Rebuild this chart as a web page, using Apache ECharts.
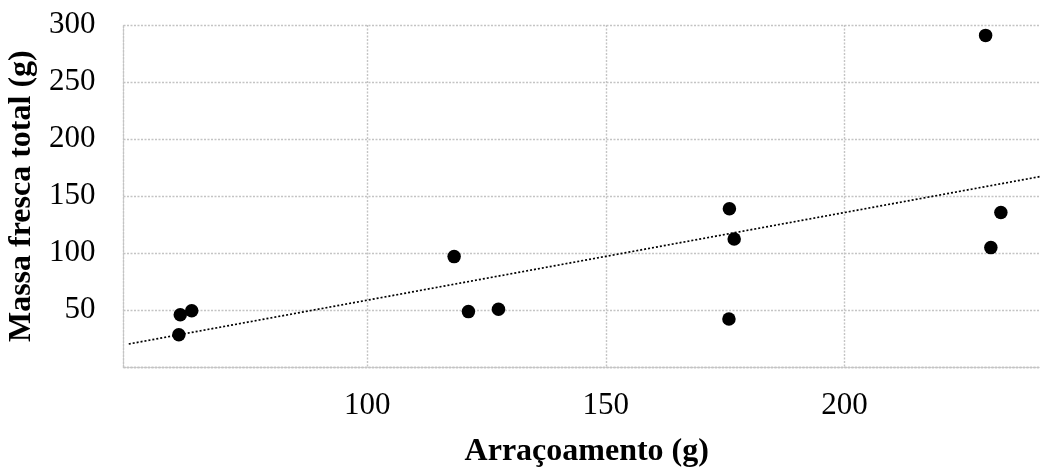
<!DOCTYPE html>
<html>
<head>
<meta charset="utf-8">
<script src="https://cdn.jsdelivr.net/npm/echarts@6/dist/echarts.min.js"></script>
<style>
  html, body { margin: 0; padding: 0; background: #fff; }
  #chart { width: 1040px; height: 467px; }
</style>
</head>
<body>
<div id="chart"></div>
<script>
// Feeding amount (g) and total fresh mass (g) per observation
const arracoamento = [60.8, 63.2, 60.5, 118.2, 121.2, 127.5, 175.9, 176.9, 175.8, 229.6, 232.8, 230.7];
const massaFresca  = [46.1, 49.6, 28.6, 97.0, 48.8, 50.9, 138.9, 112.5, 42.4, 290.9, 135.6, 104.9];
const xTicks = [100, 150, 200];
const yTicks = [50, 100, 150, 200, 250, 300];
const xRange = [48.9, 241];
const trendStart = 50;

// Least-squares linear trend
function linearFit(xs, ys) {
  const n = xs.length;
  const mx = xs.reduce((a, b) => a + b, 0) / n;
  const my = ys.reduce((a, b) => a + b, 0) / n;
  let sxy = 0, sxx = 0;
  for (let i = 0; i < n; i++) {
    sxy += (xs[i] - mx) * (ys[i] - my);
    sxx += (xs[i] - mx) * (xs[i] - mx);
  }
  const slope = sxy / sxx;
  return { slope, intercept: my - slope * mx };
}
const fit = linearFit(arracoamento, massaFresca);
const trend = [trendStart, xRange[1]].map(x => [x, fit.intercept + fit.slope * x]);
const points = arracoamento.map((x, i) => [x, massaFresca[i]]);

const gridLine = { color: '#c4c4c4', width: 1.4, type: [2, 1.5] };
const font = 'Liberation Serif';

const chart = echarts.init(document.getElementById('chart'));
chart.setOption({
  animation: false,
  grid: {
    left: 123.5, top: 25, right: 0, bottom: 99.7,
    containLabel: false, outerBoundsMode: 'none'
  },
  xAxis: {
    type: 'value',
    min: xRange[0],
    max: xRange[1],
    name: 'Arraçoamento (g)',
    nameLocation: 'middle',
    nameGap: 68,
    nameTextStyle: {
      fontFamily: font, fontSize: 32, fontWeight: 'bold', color: '#000',
      padding: [0, 0, 0, 10]
    },
    axisLine: { show: true, lineStyle: gridLine },
    axisTick: { show: false, customValues: xTicks },
    axisLabel: {
      customValues: xTicks,
      fontFamily: font, fontSize: 31, color: '#000', margin: 23
    },
    splitLine: { show: true, lineStyle: gridLine }
  },
  yAxis: {
    type: 'value',
    min: 0,
    max: 300,
    interval: 50,
    name: 'Massa fresca total (g)',
    nameLocation: 'middle',
    nameGap: 84,
    nameTextStyle: { fontFamily: font, fontSize: 32, fontWeight: 'bold', color: '#000' },
    axisLine: { show: true, lineStyle: gridLine },
    axisTick: { show: false },
    axisLabel: {
      fontFamily: font, fontSize: 31, color: '#000', margin: 28,
      formatter: v => (yTicks.indexOf(v) >= 0 ? String(v) : '')
    },
    splitLine: { show: true, lineStyle: gridLine }
  },
  series: [
    {
      type: 'line',
      data: trend,
      symbol: 'none',
      lineStyle: { color: '#000', width: 1.7, type: [2, 2] },
      silent: true,
      z: 1
    },
    {
      type: 'scatter',
      data: points,
      symbol: 'circle',
      symbolSize: 13.5,
      itemStyle: { color: '#000', opacity: 1 },
      z: 2
    }
  ]
});
</script>
</body>
</html>
